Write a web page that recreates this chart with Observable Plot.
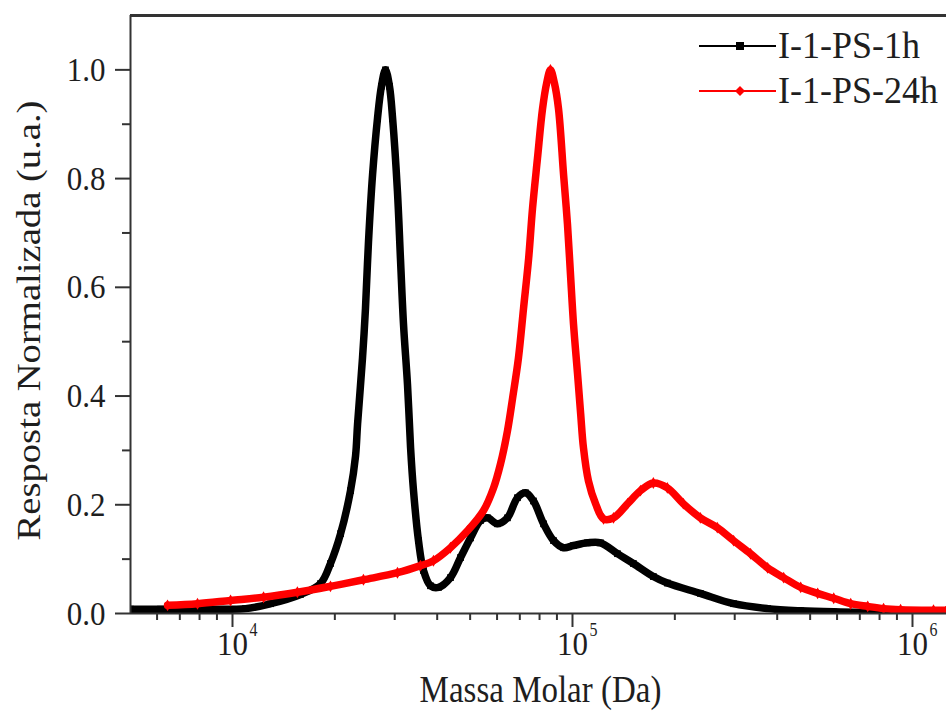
<!DOCTYPE html>
<html>
<head>
<meta charset="utf-8">
<script src="https://cdn.jsdelivr.net/npm/d3@7"></script>
<script src="https://cdn.jsdelivr.net/npm/@observablehq/plot@0.6"></script>
<style>
  html, body { margin: 0; padding: 0; background: #fff; }
  #wrap { position: relative; width: 946px; height: 711px; overflow: hidden; }
  #legend { position: absolute; left: 699px; top: 23px; font-family: "Liberation Serif", serif; font-size: 36px; color: #1e1e1e; line-height: 45px; }
  #legend .row { display: flex; align-items: center; white-space: nowrap; }
  #legend svg { margin-right: 2px; }
  #legend span { display: inline-block; transform: scaleY(1.05); }
</style>
</head>
<body>
<div id="wrap"><div id="legend"></div></div>
<script>
// ---- data ----
const seriesNames = ["I-1-PS-1h", "I-1-PS-24h"];
const seriesColors = ["#000000", "#ff0000"];

const blackX = [5012, 6140, 8050, 10920, 12940, 15850, 18150, 19420, 20800, 22240, 23010, 23330, 24120, 24610, 25120, 25820, 26690, 27420, 28180, 28950, 29580, 30560, 31190, 31840, 32720, 33400, 34070, 35240, 36460, 38220, 40350, 43760, 46860, 50120, 53610, 56230, 60140, 64380, 68880, 72740, 76770, 82200, 87960, 94140, 100700, 110700, 120900, 135600, 151000, 172900, 190100, 237700, 297700, 374800, 469000, 586600, 738500, 953000];
const blackY = [0.008, 0.008, 0.008, 0.009, 0.018, 0.035, 0.055, 0.092, 0.147, 0.226, 0.29, 0.349, 0.47, 0.561, 0.684, 0.807, 0.91, 0.97, 1.0, 0.97, 0.91, 0.776, 0.653, 0.532, 0.42, 0.305, 0.226, 0.134, 0.079, 0.051, 0.048, 0.066, 0.103, 0.139, 0.171, 0.176, 0.165, 0.176, 0.213, 0.222, 0.207, 0.165, 0.134, 0.121, 0.125, 0.130, 0.130, 0.110, 0.092, 0.068, 0.056, 0.037, 0.018, 0.009, 0.005, 0.003, 0.002, 0.001];

const redX = [6440, 7890, 9870, 12340, 15520, 19420, 24270, 30560, 35720, 39000, 43760, 49100, 54700, 58580, 61400, 64380, 66650, 69350, 71770, 74300, 76280, 78880, 81620, 83900, 86120, 88520, 90980, 94140, 96660, 98650, 100700, 103500, 105700, 107700, 111400, 116900, 123400, 132000, 145300, 158500, 172900, 190100, 211800, 237700, 266600, 297700, 334000, 374800, 417800, 469000, 526100, 586600, 658100, 738500, 822200, 922600, 1153000, 1259000];
const redY = [0.015, 0.018, 0.024, 0.030, 0.039, 0.050, 0.062, 0.075, 0.088, 0.097, 0.121, 0.152, 0.189, 0.231, 0.275, 0.336, 0.396, 0.47, 0.561, 0.653, 0.745, 0.837, 0.928, 0.975, 1.0, 0.975, 0.928, 0.807, 0.716, 0.624, 0.532, 0.44, 0.367, 0.305, 0.244, 0.202, 0.174, 0.176, 0.202, 0.226, 0.240, 0.231, 0.202, 0.176, 0.158, 0.134, 0.110, 0.084, 0.066, 0.048, 0.037, 0.028, 0.018, 0.013, 0.009, 0.007, 0.006, 0.006];

const xDomain = [5012, 1259000];
const yDomain = [0, 1.1];
const yMajorTicks = [0, 0.2, 0.4, 0.6, 0.8, 1.0];
const yMinorTicks = [0.1, 0.3, 0.5, 0.7, 0.9];
const xMajorTicks = [1e4, 1e5, 1e6];
const xMajorBase = ["10", "10", "10"];
const xMajorExp = ["4", "5", "6"];
const xMinorTicks = [6000, 7000, 8000, 9000, 20000, 30000, 40000, 50000, 60000, 70000, 80000, 90000, 200000, 300000, 400000, 500000, 600000, 700000, 800000, 900000];
const xTitle = "Massa Molar (Da)";
const yTitle = "Resposta Normalizada (u.a.)";

// ---- build tables ----
const black = blackX.map((x, i) => ({x, y: blackY[i]}));
const red = redX.map((x, i) => ({x, y: redY[i]}));

const axisColor = "#333";
const textColor = "#1e1e1e";

const chart = Plot.plot({
  width: 946,
  height: 711,
  marginTop: 15,
  marginBottom: 98,
  marginLeft: 130,
  marginRight: 0,
  style: {fontFamily: "'Liberation Serif', serif", color: textColor, background: "white", overflow: "visible"},
  x: {type: "log", domain: xDomain},
  y: {domain: yDomain},
  marks: [
    // curves
    Plot.line(black, {x: "x", y: "y", stroke: seriesColors[0], strokeWidth: 7.5, curve: "catmull-rom", clip: true}),
    Plot.dot(black, {x: "x", y: "y", symbol: "square", r: 3.8, fill: seriesColors[0], clip: true}),
    Plot.line(red, {x: "x", y: "y", stroke: seriesColors[1], strokeWidth: 7.5, curve: "catmull-rom", clip: true}),
    Plot.dot(red, {x: "x", y: "y", symbol: "diamond", r: 3.6, fill: seriesColors[1], clip: true}),
    // frame lines
    Plot.ruleY([yDomain[0]], {stroke: axisColor, strokeWidth: 2}),
    Plot.ruleY([yDomain[1]], {stroke: axisColor, strokeWidth: 3}),
    Plot.ruleX([xDomain[0]], {stroke: axisColor, strokeWidth: 2}),
    // y axis
    Plot.axisY({ticks: yMajorTicks, tickSize: 15, tickPadding: 10, tickFormat: d => d.toFixed(1), fontSize: 31, label: null, stroke: axisColor, strokeWidth: 2}),
    Plot.axisY({ticks: yMinorTicks, tickSize: 8, tickFormat: () => "", label: null, stroke: axisColor, strokeWidth: 2}),
    // x axis
    Plot.axisX({ticks: xMajorTicks, tickSize: 14, tickFormat: () => "", label: null, stroke: axisColor, strokeWidth: 2}),
    Plot.axisX({ticks: xMinorTicks, tickSize: 7, tickFormat: () => "", label: null, stroke: axisColor, strokeWidth: 2}),
    Plot.text(xMajorTicks, {x: d => d, frameAnchor: "bottom", lineAnchor: "middle", dy: 30, text: (d, i) => xMajorBase[i], fontSize: 31, fill: textColor}),
    Plot.text(xMajorTicks, {x: d => d, frameAnchor: "bottom", lineAnchor: "middle", dx: 21, dy: 17, text: (d, i) => xMajorExp[i], fontSize: 16, fill: textColor}),
    // titles
    Plot.text([xTitle], {frameAnchor: "bottom", lineAnchor: "middle", dx: 2, dy: 77, text: d => d, fontSize: 33, fill: textColor}),
    Plot.text([yTitle], {frameAnchor: "left", textAnchor: "middle", lineAnchor: "middle", dx: -101, dy: 6, rotate: -90, text: d => d, fontSize: 33, fill: textColor})
  ]
});

// stretch text glyphs vertically a little, as in the reference
d3.select(chart).selectAll("text").each(function () {
  const t = d3.select(this);
  if (this.textContent === yTitle) {
    t.attr("textLength", 440).attr("lengthAdjust", "spacingAndGlyphs");
    return;
  }
  const tr = t.attr("transform");
  if (tr) t.attr("transform", tr + " scale(1,1.12)");
});

const wrap = document.getElementById("wrap");
wrap.insertBefore(chart, wrap.firstChild);

// legend
const legend = document.getElementById("legend");
seriesNames.forEach((name, i) => {
  const row = document.createElement("div");
  row.className = "row";
  const sym = i === 0
    ? `<rect x="37" y="2" width="8" height="8" fill="${seriesColors[i]}"/>`
    : `<path d="M41,1 L46,6 L41,11 L36,6 Z" fill="${seriesColors[i]}"/>`;
  row.innerHTML = `<svg width="77" height="12"><line x1="0" y1="6" x2="77" y2="6" stroke="${seriesColors[i]}" stroke-width="2"/>${sym}</svg><span>${name}</span>`;
  legend.appendChild(row);
});
</script>
</body>
</html>
